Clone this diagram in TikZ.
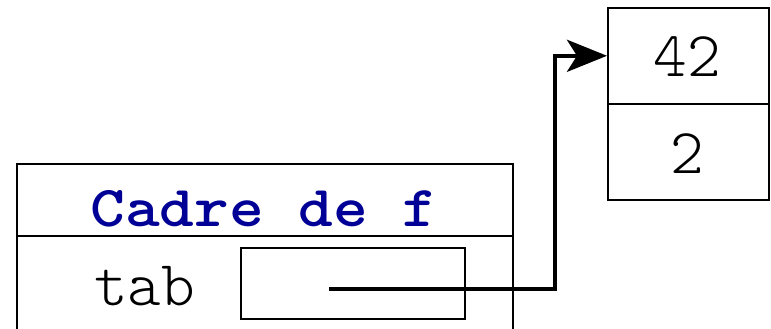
\documentclass[tikz,border=0pt]{standalone}
\usepackage{fontspec}
\setmonofont{Liberation Mono}
\newfontfamily\lightmono{Latin Modern Mono Light}
\newfontfamily\widemono[FakeStretch=1.14]{Latin Modern Mono Light}
\usetikzlibrary{arrows.meta}
\definecolor{titleblue}{RGB}{0,0,150}
\begin{document}
\begin{tikzpicture}[x=1pt,y=-1pt,
  cell/.style={draw, line width=1.6pt, rectangle, inner sep=0pt, anchor=north west},
  code/.style={font=\fontsize{64}{66}\selectfont\lightmono, inner sep=0pt, anchor=base},
  title/.style={inner sep=0pt, anchor=base, font=\fontsize{58}{60}\selectfont\widemono\bfseries, text=titleblue},
  pointer/.style={line width=4.5pt, -{Stealth[length=40pt, width=32pt, inset=10pt]}}]
\useasboundingbox (0,0) rectangle (771,329);
\clip (0,0) rectangle (771,329);

% stack frame of f: header and body
\node[cell, minimum width=496pt, minimum height=72pt] (header) at (16,163) {};
\node[cell, minimum width=496pt, minimum height=120pt] (body) at (16,235) {};
\node[title] (frametitle) at (264,226) {Cadre de f};
\node[code, anchor=base west] (tabname) at (94,305) {tab};
\node[cell, minimum width=224pt, minimum height=71pt] (tabbox) at (240,247) {};

% heap array with two cells
\node[cell, minimum width=161pt, minimum height=96pt] (cella) at (607,7) {};
\node[cell, minimum width=161pt, minimum height=96pt] (cellb) at (607,103) {};
\node[code] (vala) at (687.5,77) {42};
\node[code] (valb) at (687.5,173) {2};

% reference from tab to the array
\coordinate (src) at (329,289);
\coordinate (bend) at (555,289);
\draw[pointer] (src) -- (bend) |- (cella.west);
\end{tikzpicture}
\end{document}
